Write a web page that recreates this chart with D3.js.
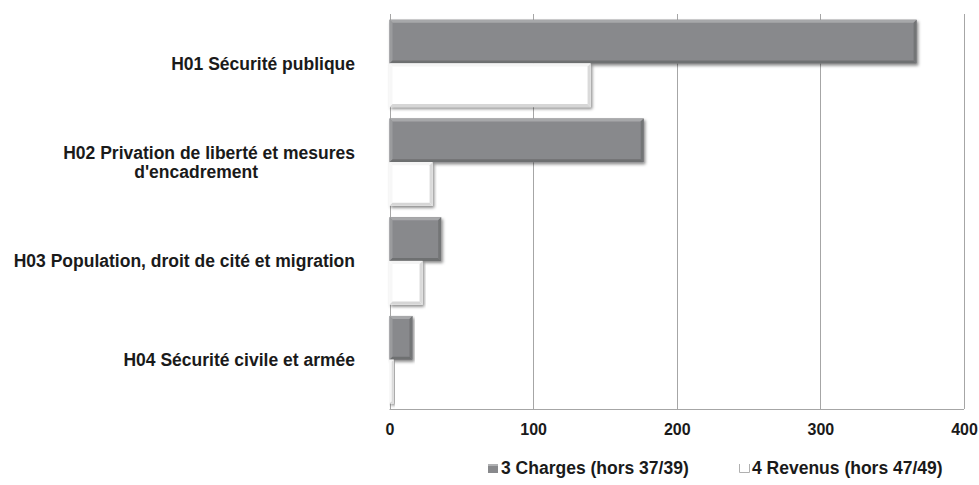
<!DOCTYPE html>
<html><head><meta charset="utf-8">
<script src="https://cdn.jsdelivr.net/npm/d3@7"></script>
<style>
html,body{margin:0;padding:0;background:#fff;}
text{font-family:"Liberation Sans",Arial,sans-serif;font-weight:bold;fill:#1a1a1a;}
</style></head>
<body><svg id="c" width="979" height="485"></svg>
<script>
const categories = ["H01 Sécurité publique",
  "H02 Privation de liberté et mesures|d'encadrement",
  "H03 Population, droit de cité et migration",
  "H04 Sécurité civile et armée"];
const seriesNames = ["3 Charges (hors 37/39)", "4 Revenus (hors 47/49)"];
const charges = [367, 177, 36, 16];
const revenus = [140, 30, 23, 3];
const xTicks = [0, 100, 200, 300, 400];

const svg = d3.select("#c");
const defs = svg.append("defs");
const f = defs.append("filter").attr("id","sh").attr("x","-5%").attr("y","-10%").attr("width","115%").attr("height","140%");
f.append("feDropShadow").attr("dx",1.5).attr("dy",2).attr("stdDeviation",1.5).attr("flood-color","#000").attr("flood-opacity",0.45);

const x = d3.scaleLinear().domain([0,400]).range([389.5, 964]);
const y = d3.scaleBand().domain(categories).range([14, 409]).padding(0);
const ys = d3.scaleBand().domain(seriesNames).range([0, y.bandwidth()]).paddingInner(0).paddingOuter(0.13);

// gridlines
svg.append("g").selectAll("line").data(xTicks).join("line")
  .attr("x1", d=>Math.round(x(d))+0.5).attr("x2", d=>Math.round(x(d))+0.5)
  .attr("y1", 14).attr("y2", 409)
  .attr("stroke", "#a6a6a6").attr("stroke-width", 1);
svg.append("line").attr("x1", x(0)).attr("x2", x(400)).attr("y1", 409.5).attr("y2", 409.5)
  .attr("stroke", "#a6a6a6");

// x axis labels
const xa = d3.axisBottom(x).tickValues(xTicks).tickSize(0).tickPadding(0);
const gx = svg.append("g").attr("transform","translate(0,424)").call(xa);
gx.select(".domain").remove();
gx.selectAll("text").attr("font-size",16).style("font-family","'Liberation Sans',Arial,sans-serif").style("font-weight","bold").attr("fill","#1a1a1a");

// bars
const data = categories.map((c,i)=>({c, vals:[{s:seriesNames[0], v:charges[i]},{s:seriesNames[1], v:revenus[i]}]}));
const groups = svg.append("g").selectAll("g").data(data).join("g")
  .attr("transform", d=>`translate(0,${y(d.c)})`);

function bevelBar(g, d) {
  const x0 = x(0), w = x(d.v)-x(0), y0 = ys(d.s), h = ys.bandwidth();
  const isC = d.s === seriesNames[0];
  const bg = g.append("g").attr("filter","url(#sh)");
  bg.append("rect").attr("x",x0).attr("y",y0).attr("width",w).attr("height",h)
    .attr("fill", isC ? "#88898c" : "#ffffff");
  const b = Math.min(3, w/2);
  bg.append("path").attr("d",`M${x0},${y0}L${x0+w},${y0}L${x0+w-b},${y0+b}L${x0+b},${y0+b}Z`)
    .attr("fill", isC ? "#a7a8aa" : "#f4f4f4");
  bg.append("path").attr("d",`M${x0},${y0}L${x0+b},${y0+b}L${x0+b},${y0+h-b}L${x0},${y0+h}Z`)
    .attr("fill", isC ? "#9a9b9d" : "#f7f7f7");
  bg.append("path").attr("d",`M${x0},${y0+h}L${x0+b},${y0+h-b}L${x0+w-b},${y0+h-b}L${x0+w},${y0+h}Z`)
    .attr("fill", isC ? "#6e6f71" : "#d6d6d6");
  bg.append("path").attr("d",`M${x0+w},${y0}L${x0+w},${y0+h}L${x0+w-b},${y0+h-b}L${x0+w-b},${y0+b}Z`)
    .attr("fill", isC ? "#737476" : "#dadada");
}
groups.each(function(d){
  const g = d3.select(this);
  d.vals.forEach(v=>bevelBar(g, v));
});

// category labels
const labelX = 355;
const fs = 17.5;
categories.forEach(c=>{
  const lines = c.split("|");
  const cy = y(c) + y.bandwidth()/2;
  if (lines.length === 1) {
    svg.append("text").attr("x",labelX).attr("y",cy).attr("dy","0.35em")
      .attr("text-anchor","end").attr("font-size",fs).text(lines[0]);
  } else {
    const t1 = svg.append("text").attr("x",labelX).attr("y",cy-9).attr("dy","0.35em")
      .attr("text-anchor","end").attr("font-size",fs).text(lines[0]);
    const w1 = t1.node().getComputedTextLength();
    svg.append("text").attr("x",labelX - w1/2 - 13).attr("y",cy+10).attr("dy","0.35em")
      .attr("text-anchor","middle").attr("font-size",fs).text(lines[1]);
  }
});

// legend
const legX = [488, 739];
seriesNames.forEach((s,i)=>{
  const g = svg.append("g").attr("transform",`translate(${legX[i]},468)`);
  if (i===0) {
    g.append("rect").attr("x",0).attr("y",-4).attr("width",10).attr("height",9).attr("fill","#88898c");
    g.append("rect").attr("x",0).attr("y",-4).attr("width",10).attr("height",2).attr("fill","#b0b1b3");
  } else {
    g.append("path").attr("d","M0.5,-4V4.5H10.5V-4").attr("fill","#fff")
      .attr("stroke","#b0b0b0").attr("stroke-width",1);
  }
  g.append("text").attr("x",13).attr("y",0).attr("dy","0.35em").attr("font-size",fs).text(s);
});
</script></body></html>
